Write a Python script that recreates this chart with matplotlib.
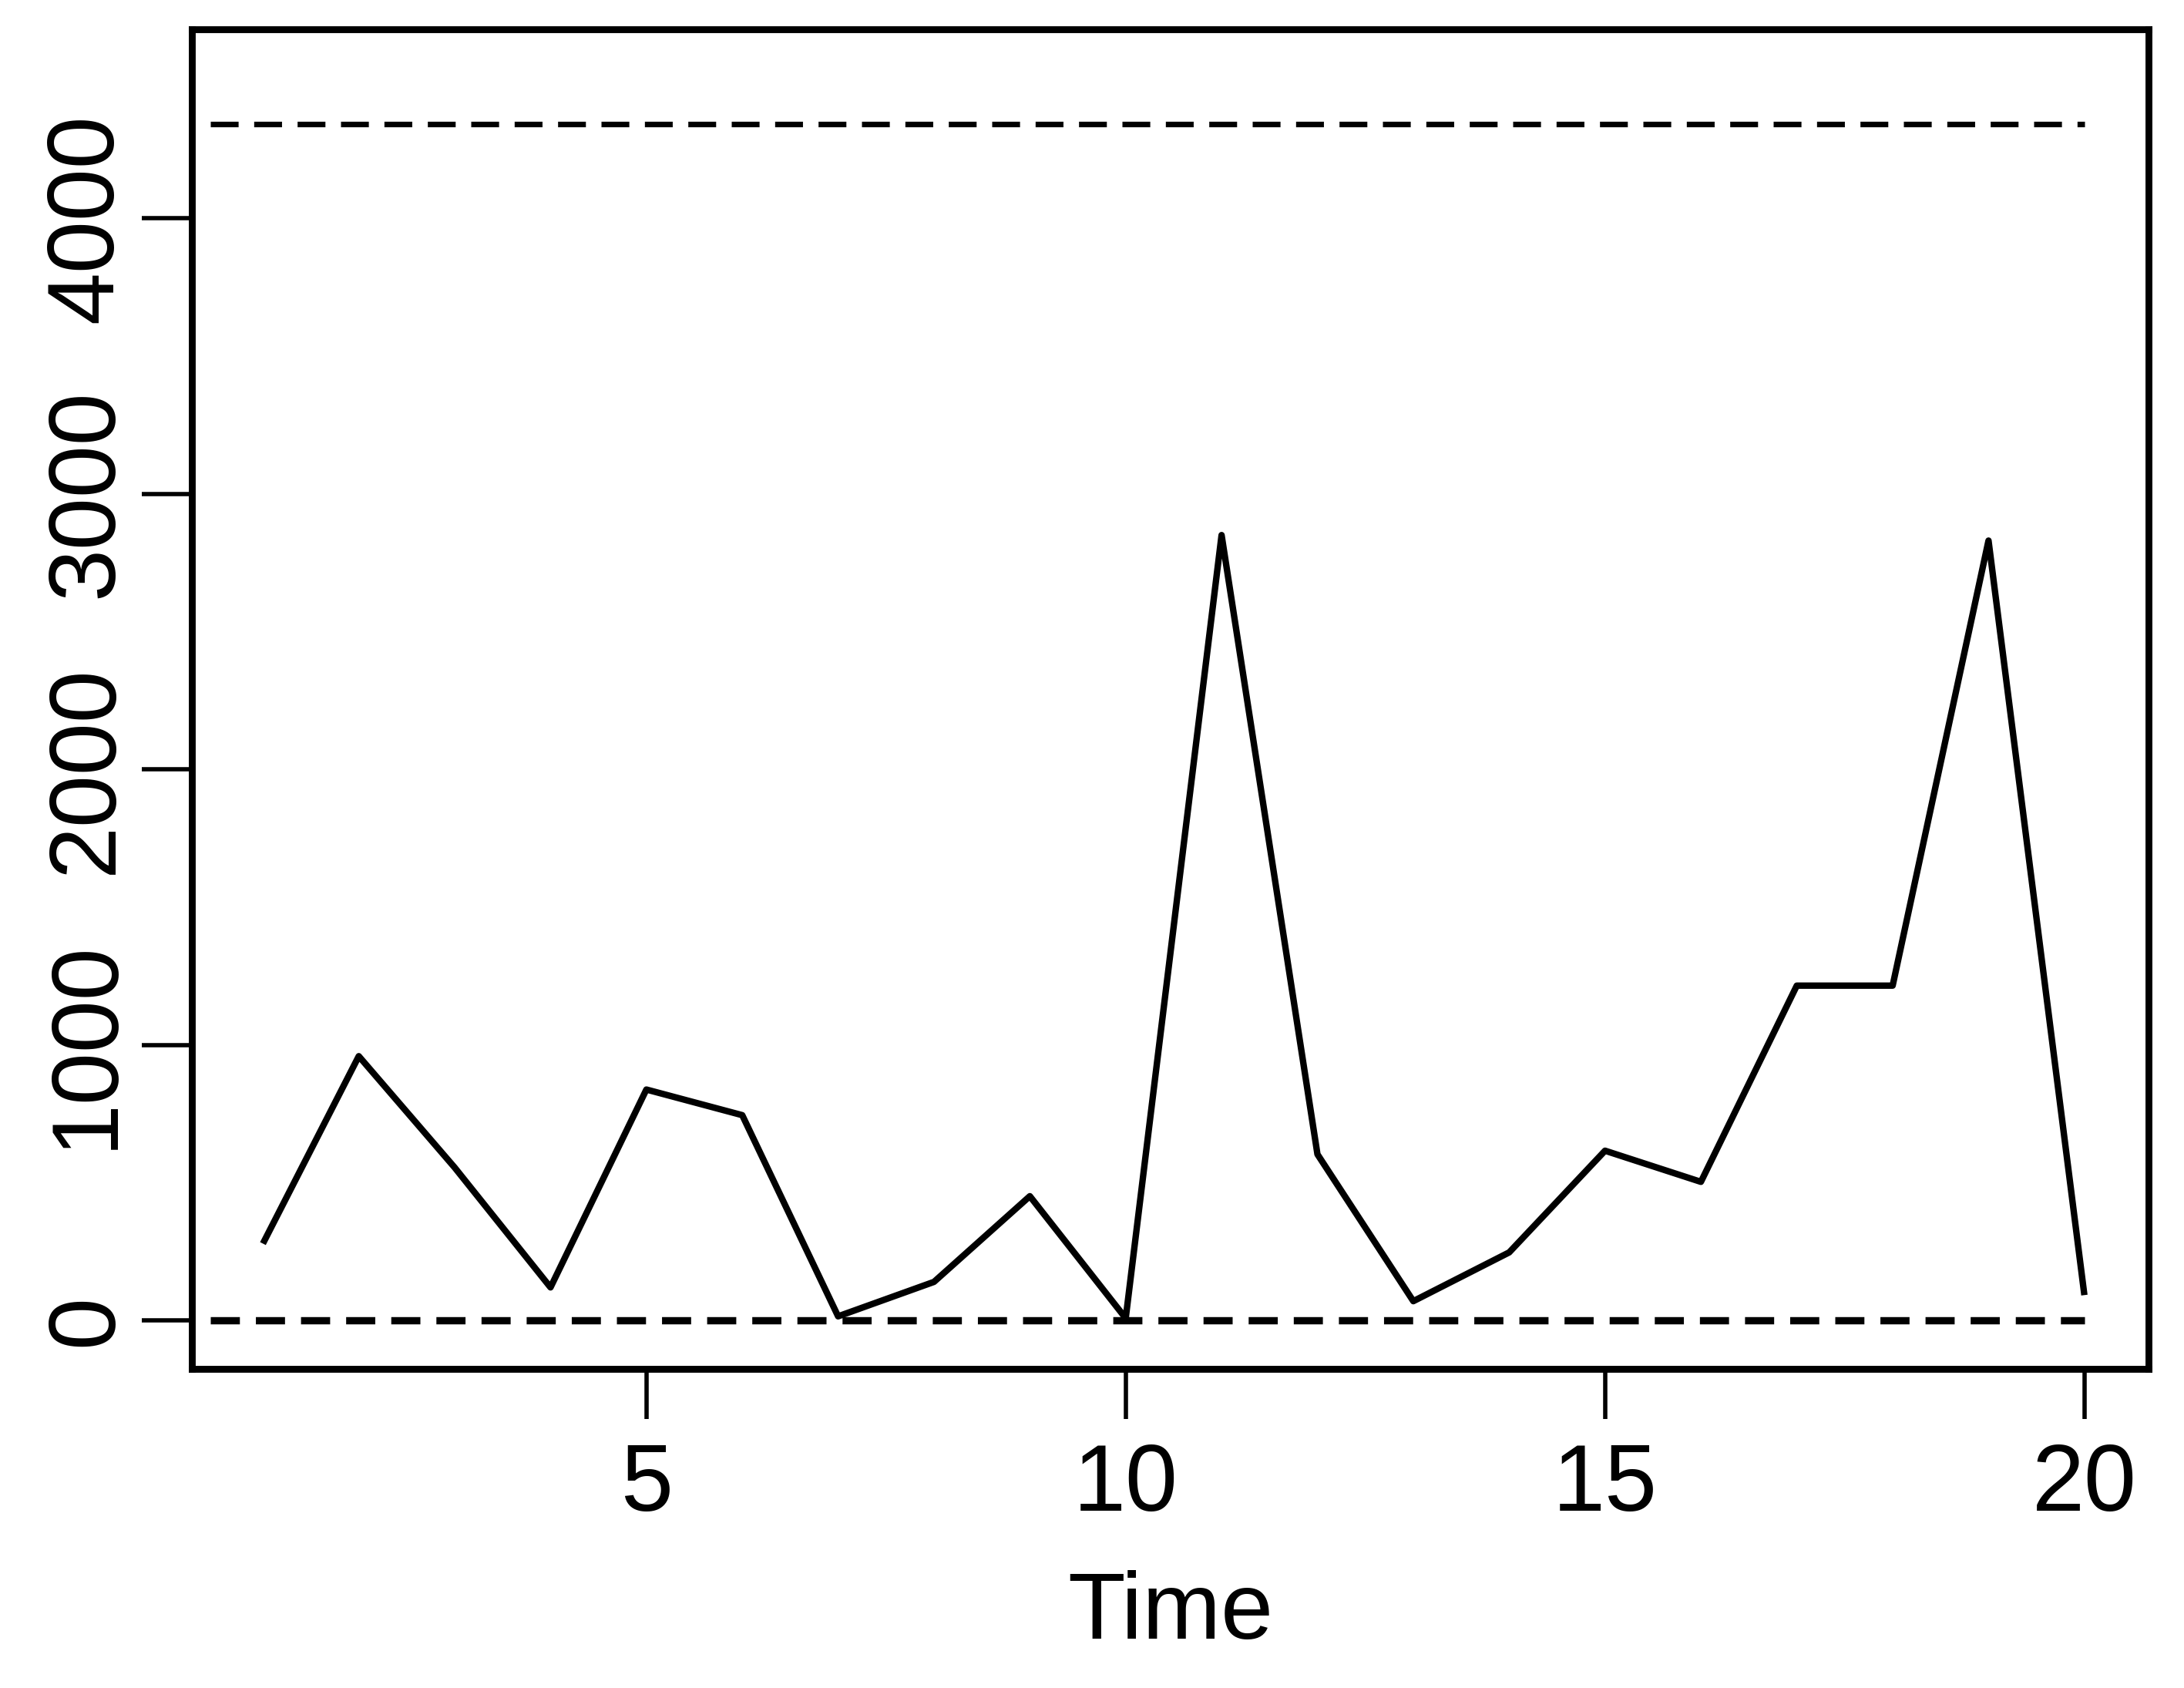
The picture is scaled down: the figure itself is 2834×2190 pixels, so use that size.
import matplotlib
matplotlib.use("Agg")
import matplotlib.pyplot as plt

time = list(range(1, 21))
values = [279, 959, 555, 120, 838, 745, 15, 140, 451, 8,
          2850, 603, 70, 247, 616, 503, 1215, 1215, 2830, 92]
upper_limit = 4340
lower_limit = 0
limit_span = [0.45, 20]
x_ticks = [5, 10, 15, 20]
y_ticks = [0, 1000, 2000, 3000, 4000]

plt.rcParams['font.family'] = ['Liberation Sans', 'DejaVu Sans']

fig = plt.figure(figsize=(14.17, 10.95), dpi=200)
ax = fig.add_axes([0.0879, 0.189, 0.9838 - 0.0879, 0.9826 - 0.189])

ax.plot(time, values, color='black', lw=3.0, solid_joinstyle='round',
        solid_capstyle='butt')
ax.plot(limit_span, [upper_limit, upper_limit], color='black', lw=2.6,
        dashes=(5.0, 2.8), dash_capstyle='butt')
ax.plot(limit_span, [lower_limit, lower_limit], color='black', lw=3.4,
        dashes=(4.0, 2.2), dash_capstyle='butt')

ax.set_xlim(0.26, 20.67)
ax.set_ylim(-176, 4685)
ax.set_xticks(x_ticks)
ax.set_yticks(y_ticks)
ax.set_xticklabels([str(v) for v in x_ticks])
ax.set_yticklabels([str(v) for v in y_ticks], rotation=90, va='center')

for s in ax.spines.values():
    s.set_linewidth(3.2)
ax.tick_params(axis='both', length=23.5, width=2.0, labelsize=44, color='black')
ax.tick_params(axis='x', pad=10.5)
ax.tick_params(axis='y', pad=5)

ax.set_xlabel('Time', fontsize=44, labelpad=19)

fig.savefig('out.png', dpi=200, facecolor='white')
